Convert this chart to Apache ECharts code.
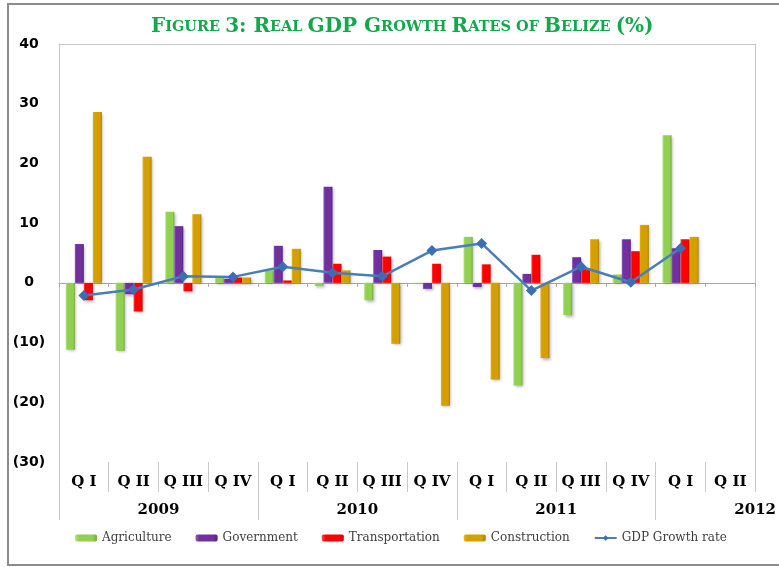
<!DOCTYPE html>
<html>
<head>
<meta charset="utf-8">
<script src="https://cdn.jsdelivr.net/npm/echarts@6/dist/echarts.min.js"></script>
<style>
  html, body { margin: 0; padding: 0; background: #fff; }
  #chart { width: 779px; height: 567px; }
</style>
</head>
<body>
<div id="chart"></div>
<script>
const quarters = ["Q I", "Q II", "Q III", "Q IV", "Q I", "Q II", "Q III", "Q IV",
  "Q I", "Q II", "Q III", "Q IV", "Q I", "Q II"];
const years = ["2009", "2010", "2011", "2012"];

const agriculture = [-11.2, -11.4, 11.9, 0.8, 2.1, -0.5, -2.9, -0.1, 7.7, -17.2, -5.4, 1.4, 24.7, null];
const government = [6.5, -1.9, 9.5, 0.7, 6.2, 16.1, 5.5, -1.0, -0.7, 1.5, 4.3, 7.3, 5.8, null];
const transportation = [-2.9, -4.8, -1.4, 0.9, 0.4, 3.2, 4.4, 3.2, 3.1, 4.7, 2.3, 5.3, 7.3, null];
const construction = [28.6, 21.1, 11.5, 0.9, 5.7, 2.1, -10.2, -20.6, -16.2, -12.6, 7.3, 9.7, 7.7, null];
const gdpGrowth = [-2.1, -1.1, 1.1, 1.0, 2.7, 1.7, 1.1, 5.4, 6.6, -1.3, 2.7, 0.1, 5.8, null];

const yTicks = { min: -30, max: 40, step: 10 };

const chart = echarts.init(document.getElementById("chart"));

// flat colour with slightly lighter/darker edges, like Excel's bevel
function bevel(light, mid, dark) {
  return new echarts.graphic.LinearGradient(0, 0, 1, 0, [
    { offset: 0, color: light },
    { offset: 0.18, color: mid },
    { offset: 0.8, color: mid },
    { offset: 1, color: dark }
  ]);
}

function barSeries(name, data, light, mid, dark) {
  return {
    name: name,
    type: "bar",
    data: data,
    barWidth: 9,
    barGap: "0%",
    itemStyle: {
      color: bevel(light, mid, dark),
      shadowColor: "rgba(0,0,0,0.3)",
      shadowBlur: 3,
      shadowOffsetX: 1.5,
      shadowOffsetY: 1.5
    }
  };
}

const serifFont = "DejaVu Serif";
const gridLine = "#c8c8c8";

chart.setOption({
  backgroundColor: "#fff",
  animation: false,
  title: {
    left: 146,
    top: 12,
    text: "{a|F}{b|IGURE }{a|3: R}{b|EAL }{a|GDP G}{b|ROWTH }{a|R}{b|ATES OF }{a|B}{b|ELIZE }{a|(%)}",
    textStyle: {
      rich: {
        a: { fontFamily: serifFont, fontWeight: "bold", fontSize: 20, color: "#14a84c" },
        b: { fontFamily: serifFont, fontWeight: "bold", fontSize: 14.5, color: "#14a84c" }
      }
    }
  },
  graphic: [{
    type: "rect",
    shape: { x: 8, y: 4, width: 800, height: 561 },
    style: { fill: null, stroke: "#8c8c8c", lineWidth: 2 },
    silent: true
  }],
  grid: { left: 59, right: 22, top: 44, bottom: 105, containLabel: false },
  legend: {
    left: 70,
    top: 527,
    itemWidth: 22,
    itemHeight: 7,
    itemGap: 24,
    textStyle: { fontFamily: serifFont, fontSize: 12, color: "#404040" },
    data: ["Agriculture", "Government", "Transportation", "Construction", "GDP Growth rate"]
  },
  xAxis: [
    {
      type: "category",
      data: quarters,
      position: "bottom",
      axisLine: { onZero: true, lineStyle: { color: "#a6a6a6", width: 1 } },
      axisTick: { show: true, interval: 0, length: 4, lineStyle: { color: "#a6a6a6" } },
      axisLabel: { show: false }
    },
    {
      type: "category",
      data: quarters,
      position: "bottom",
      offset: 0,
      axisLine: { show: false, onZero: false },
      axisTick: { show: true, interval: 0, length: 30, lineStyle: { color: gridLine } },
      axisLabel: {
        interval: 0,
        margin: 13,
        fontFamily: serifFont,
        fontWeight: "bold",
        fontSize: 15,
        color: "#000"
      }
    },
    {
      type: "value",
      min: 0,
      max: quarters.length,
      position: "bottom",
      offset: 30,
      axisLine: { show: false, onZero: false },
      splitLine: { show: false },
      axisTick: { show: true, length: 28, customValues: [0, 4, 8, 12], lineStyle: { color: gridLine } },
      axisLabel: {
        margin: 11,
        customValues: [2, 6, 10, 14],
        formatter: (v) => years[Math.round((v - 2) / 4)] || "",
        fontFamily: serifFont,
        fontWeight: "bold",
        fontSize: 15,
        color: "#000"
      }
    },
    {
      type: "category",
      data: quarters,
      position: "top",
      axisLine: { show: true, onZero: false, lineStyle: { color: gridLine } },
      axisTick: { show: false },
      axisLabel: { show: false }
    }
  ],
  yAxis: [
    {
      type: "value",
      min: yTicks.min,
      max: yTicks.max,
      interval: yTicks.step,
      axisLine: { show: true, onZero: false, lineStyle: { color: gridLine } },
      axisTick: { show: false },
      splitLine: { show: false },
      axisLabel: {
        align: "center",
        margin: 30,
        formatter: (v) => (v < 0 ? "(" + (-v) + ")" : String(v)),
        fontFamily: "DejaVu Sans",
        fontWeight: "bold",
        fontSize: 14,
        color: "#000"
      }
    },
    {
      type: "value",
      min: yTicks.min,
      max: yTicks.max,
      interval: yTicks.step,
      position: "right",
      axisLine: { show: true, onZero: false, lineStyle: { color: gridLine } },
      axisTick: { show: false },
      splitLine: { show: false },
      axisLabel: { show: false }
    }
  ],
  series: [
    barSeries("Agriculture", agriculture, "#b4e482", "#92d050", "#72a83e"),
    barSeries("Government", government, "#9358c0", "#7030a0", "#56217e"),
    barSeries("Transportation", transportation, "#ff4a4a", "#ff0000", "#cc0000"),
    barSeries("Construction", construction, "#e6b41e", "#d4a000", "#a87e00"),
    {
      name: "GDP Growth rate",
      type: "line",
      data: gdpGrowth,
      z: 5,
      symbol: "diamond",
      symbolSize: 11,
      lineStyle: { color: "#4a7ebb", width: 2.5 },
      itemStyle: { color: "#3c6eb4" }
    }
  ]
});
</script>
</body>
</html>
